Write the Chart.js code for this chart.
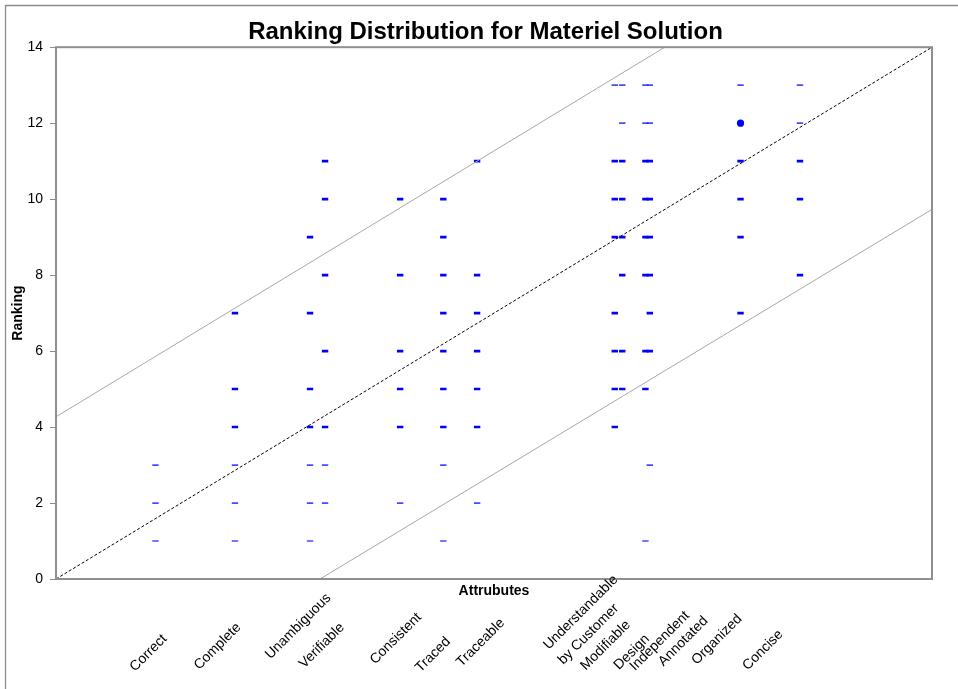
<!DOCTYPE html>
<html>
<head>
<meta charset="utf-8">
<script src="https://cdn.jsdelivr.net/npm/chart.js@4.4.1/dist/chart.umd.min.js"></script>
<style>
html,body{margin:0;padding:0;background:#fff;overflow:hidden}
#wrap{position:relative;width:958px;height:689px}
canvas{display:block}
</style>
</head>
<body>
<div id="wrap"><canvas id="c" width="958" height="689" style="width:958px;height:689px"></canvas></div>
<script>
// ---- data ----
const chartTitle = 'Ranking Distribution for Materiel Solution';
const xTitle = 'Attrubutes';
const yTitle = 'Ranking';

const categories = ['Correct','Complete','Unambiguous','Verifiable','Consistent','Traced','Traceable',
  'Understandable by Customer','Modifiable','Design Independent','Annotated','Organized','Concise'];
// horizontal position of each attribute's column (same units as the ranking axis)
const categoryX = [1.59, 2.86, 4.06, 4.30, 5.50, 6.19, 6.73, 8.93, 9.05, 9.42, 9.49, 10.94, 11.89];
const rankings = [
  [1,2,3],                    // Correct
  [1,2,3,4,5,7],              // Complete
  [1,2,3,4,5,7,9],            // Unambiguous
  [2,3,4,6,8,10,11],          // Verifiable
  [2,4,5,6,8,10],             // Consistent
  [1,3,4,5,6,7,8,9,10],       // Traced
  [2,4,5,6,7,8,11],           // Traceable
  [4,5,6,7,9,10,11,13],       // Understandable by Customer
  [5,6,8,9,10,11,12,13],      // Modifiable
  [1,5,6,8,9,10,11,12,13],    // Design Independent
  [3,6,7,8,9,10,11,12,13],    // Annotated
  [7,9,10,11,12,13],          // Organized
  [8,10,11,12,13]             // Concise
];
const emphasizedCategory = 'Organized';
const emphasizedRank = 12;

const diagonalX = [0, 14];
const diagonalY = [0, 14];
const upperBandX = [0, 9.73];
const upperBandY = [4.27, 14];
const lowerBandX = [4.22, 14];
const lowerBandY = [0, 9.73];

const yMin = 0, yMax = 14, yStep = 2;
const xMin = 0, xMax = 14;

// attribute labels under the axis, one entry per text line
const xLabelLines = ['Correct','Complete','Unambiguous','Verifiable','Consistent','Traced','Traceable',
  'Understandable','by Customer','Modifiable','Design','Independent','Annotated','Organized','Concise'];

// ---- build chart ----
const FONT = "'Liberation Sans', Arial, Helvetica, sans-serif";
const toPts = (xs, ys) => xs.map((x, i) => ({x, y: ys[i]}));

const scatterSets = categories.map((name, ci) => {
  const isBig = c => name === emphasizedCategory && c.raw && c.raw.y === emphasizedRank;
  const isLight = c => c.raw && (c.raw.y <= 3 || c.raw.y >= 12) && !isBig(c);
  return {
    type: 'scatter',
    label: name,
    order: 2,
    data: rankings[ci].map(r => ({x: categoryX[ci], y: r})),
    pointStyle: c => isBig(c) ? 'circle' : 'line',
    pointRadius: c => isBig(c) ? 3.6 : 3.2,
    borderWidth: c => isBig(c) ? 0 : (isLight(c) ? 1.7 : 2.6),
    borderColor: c => isLight(c) ? 'rgba(40,40,255,0.85)' : '#0000ff',
    backgroundColor: '#0000ff'
  };
});

const lineSets = [
  {type:'line', label:'Diagonal', order:0, data: toPts(diagonalX, diagonalY), borderColor:'#000', borderWidth:1, borderDash:[3,2], pointRadius:0, fill:false, tension:0},
  {type:'line', label:'Upper band', order:1, data: toPts(upperBandX, upperBandY), borderColor:'#a8a8a8', borderWidth:1, pointRadius:0, fill:false, tension:0},
  {type:'line', label:'Lower band', order:1, data: toPts(lowerBandX, lowerBandY), borderColor:'#a8a8a8', borderWidth:1, pointRadius:0, fill:false, tension:0}
];

const framePlugin = {
  id: 'frame',
  beforeDraw(chart) {
    const ctx = chart.ctx;
    ctx.save();
    ctx.fillStyle = '#fff';
    ctx.fillRect(0, 0, chart.width, chart.height);
    ctx.strokeStyle = '#8c8c8c';
    ctx.lineWidth = 1.3;
    ctx.beginPath();
    ctx.moveTo(5.5, chart.height);
    ctx.lineTo(5.5, 5.5);
    ctx.lineTo(chart.width, 5.5);
    ctx.stroke();
    ctx.restore();
  },
  afterDatasetsDraw(chart) {
    const {ctx, chartArea: a} = chart;
    ctx.save();
    ctx.strokeStyle = '#8f8f8f';
    ctx.lineWidth = 2;
    ctx.strokeRect(a.left, a.top, a.right - a.left, a.bottom - a.top);
    ctx.restore();
  }
};

const labelPlugin = {
  id: 'attrLabels',
  afterDraw(chart, args, opts) {
    const ctx = chart.ctx;
    const xs = chart.scales.x;
    const bottom = chart.chartArea.bottom;
    ctx.save();
    ctx.font = '14px ' + FONT;
    ctx.fillStyle = '#000';
    ctx.textAlign = 'right';
    ctx.textBaseline = 'middle';
    xLabelLines.forEach((t, i) => {
      const [ax, dy] = opts.anchors[i];
      ctx.save();
      ctx.translate(xs.getPixelForValue(ax), bottom + dy);
      ctx.rotate(-Math.PI / 4);
      ctx.fillText(t, 0, 0);
      ctx.restore();
    });
    ctx.restore();
  }
};

new Chart(document.getElementById('c'), {
  data: { datasets: [...lineSets, ...scatterSets] },
  options: {
    responsive: false,
    animation: false,
    events: [],
    layout: { padding: { left: 13, right: 0, top: 0, bottom: 0 } },
    plugins: {
      legend: { display: false },
      tooltip: { enabled: false },
      title: {
        display: true,
        text: chartTitle,
        color: '#000',
        font: { family: FONT, size: 24, weight: 'bold', lineHeight: 1.2 },
        padding: { top: 18.4, bottom: 0 }
      },
      attrLabels: {
        anchors: [[1.739,57.8],[2.921,46.2],[4.360,16.8],[4.574,46.2],[5.805,36.2],[6.268,60.5],[7.136,41.8],
                  [8.947,-1.5],[8.958,27.2],[9.145,43.8],[9.448,57.8],[10.088,34.5],[10.385,39.8],[10.928,37.8],[11.584,53.2]]
      }
    },
    scales: {
      x: {
        type: 'linear', position: 'bottom', min: xMin, max: xMax,
        ticks: { display: false },
        grid: { display: false },
        border: { display: false },
        title: { display: true, text: xTitle, color: '#000', font: { family: FONT, size: 14, weight: 'bold', lineHeight: 1.2 }, padding: { top: 0, bottom: 89.6 } },
        afterFit: s => { s.height = 110; }
      },
      y: {
        type: 'linear', position: 'left', min: yMin, max: yMax,
        ticks: { stepSize: yStep, color: '#000', padding: 7, font: { family: FONT, size: 14 } },
        grid: { drawOnChartArea: false, drawTicks: true, tickLength: 6, color: '#8c8c8c' },
        border: { display: false },
        title: { display: true, text: yTitle, color: '#000', font: { family: FONT, size: 14, weight: 'bold', lineHeight: 1.2 }, padding: { top: -3.1, bottom: 0 } },
        afterFit: s => { s.width = 43; }
      },
      y2: {
        type: 'linear', position: 'right', display: true, min: yMin, max: yMax,
        ticks: { display: false },
        grid: { display: false },
        border: { display: false },
        afterFit: s => { s.width = 26; }
      }
    }
  },
  plugins: [framePlugin, labelPlugin]
});
</script>
</body>
</html>
